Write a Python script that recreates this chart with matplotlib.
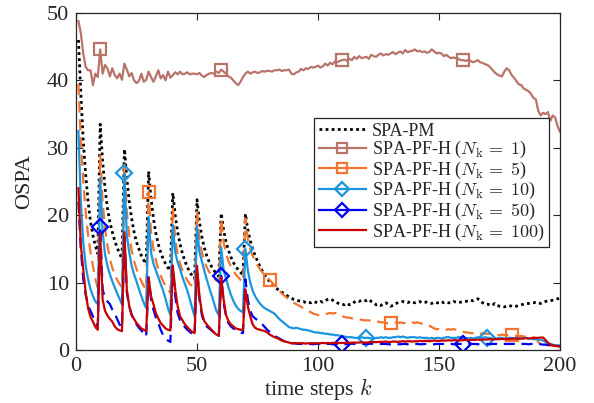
import numpy as np
import matplotlib
matplotlib.use("Agg")
import matplotlib.pyplot as plt
from matplotlib.lines import Line2D

plt.rcParams['font.family'] = ['Liberation Serif', 'DejaVu Serif']
plt.rcParams['mathtext.fontset'] = 'cm'

k = np.arange(1, 201)

spa_pm = [46, 38, 31, 26, 22, 19, 17, 15.5, 14.3,
          33.5, 28, 24, 21, 19, 17.5, 16.2, 15.2, 14.3, 13.6,
          29.8, 25.5, 22, 19.5, 17.5, 16, 15, 14, 13.3, 12.8,
          26.5, 22.5, 19.5, 17.3, 15.7, 14.5, 13.5, 12.8, 12.2, 11.8,
          23.3, 20, 17.5, 15.7, 14.3, 13.2, 12.3, 11.6, 11, 10.6,
          22.3, 19, 16.8, 15.2, 14, 13.1, 12.4, 11.8, 11.3, 10.9,
          20.3, 17.8, 16, 14.8, 13.8, 13, 12.4, 11.9, 11.5, 11.2,
          20.2, 17.8, 16.2, 15, 14, 13.2, 12.4, 11.7, 11.1, 10.6,
          10.2, 9.8, 9.4, 9.1, 8.8, 8.6, 8.3, 8.1, 7.9, 7.7,
          7.5, 7.4, 7.3, 7.2, 7.2, 7.0, 7.1, 7.0, 7.2, 7.1,
          7.0, 7.2, 7.1, 7.3, 7.5, 7.6, 7.4, 7.2, 7.0, 6.8,
          6.8, 6.7, 6.9, 6.7, 6.8, 7.1, 7.3, 7.2, 7.4, 7.4,
          7.3, 7.5, 7.2, 7.0, 6.7, 6.8, 6.6, 6.9, 7.0, 6.8,
          6.5, 6.6, 6.9, 7.0, 7.1, 7.2, 7.1, 7.0, 7.2, 7.1,
          7.0, 7.1, 7.2, 7.0, 7.1, 7.1, 7.0, 6.9, 7.1, 7.0,
          7.0, 7.2, 7.0, 7.1, 7.0, 7.0, 7.2, 7.1, 7.0, 7.1,
          7.2, 7.2, 7.3, 7.4, 7.3, 7.5, 7.6, 7.4, 7.0, 6.8,
          6.8, 6.7, 6.6, 6.9, 6.6, 6.5, 6.5, 6.4, 6.5, 6.6,
          6.5, 6.4, 6.5, 6.6, 6.7, 6.8, 6.9, 6.9, 7.0, 7.0,
          7.1, 7.0, 6.9, 7.1, 7.2, 7.3, 7.3, 7.4, 7.5, 7.6,
          7.7]

pf_n1 = [48.8, 47, 44, 42, 41.5, 41.5, 39.3, 41, 40.5,
         44.6, 41, 42.3, 41.8, 40.6, 41.8, 40.8, 40.3, 41, 40.1,
         42.5, 41.6, 40.6, 41.1, 40.0, 39.6, 39.9, 41.0, 39.8, 40.1,
         41.3, 40.5, 39.8, 40.6, 41.5, 40.3, 40.8, 40.0, 41.3, 40.4,
         40.8, 41.2, 40.9, 41.3, 40.9, 41.0, 41.2, 40.9, 41.0, 41.0,
         40.9, 41.1, 40.7, 40.5, 40.8, 41.0, 41.1, 41.0, 41.3, 41.1,
         41.6, 41.3, 41.0, 40.6, 40.4, 40.0, 39.6, 39.3, 39.8, 40.5,
         41.0, 41.3, 41.0, 41.2, 41.3, 41.1, 41.2, 41.4, 41.3, 41.4,
         41.4, 41.3, 41.5, 41.5, 41.6, 41.4, 41.5, 41.5, 41.6, 41.0,
         40.9, 41.2, 41.3, 41.7, 41.5, 41.8, 41.7, 42.0, 41.9, 42.0,
         42.2, 41.9, 42.1, 42.5, 42.2, 42.6, 42.4, 42.8, 42.7, 42.9,
         43.0, 43.1, 42.9, 43.2, 43.0, 43.5, 43.2, 43.6, 43.3, 43.4,
         43.5, 43.2, 43.8, 43.6, 43.5, 43.8, 44.0, 43.7, 43.9, 43.8,
         44.0, 44.2, 43.9, 44.1, 44.3, 44.0, 44.5, 44.2, 44.3, 44.4,
         44.6, 44.3, 44.4, 44.2, 44.3, 44.1, 44.2, 44.6, 44.3, 44.0,
         44.1, 44.0, 43.6, 43.8, 43.5, 43.3, 43.4, 43.3, 43.2, 43.0,
         43.0, 42.9, 43.0, 42.9, 42.7, 42.8, 43.0, 42.7, 42.6, 42.4,
         42.3, 42.0, 41.6, 41.2, 40.9, 40.7, 40.6, 41.3, 41.8, 41.5,
         40.8, 40.4, 39.9, 39.4, 39.3, 38.8, 38.6, 38.4, 38.0, 37.4,
         37.2, 35.5, 34.8, 35.2, 35.0, 35.3, 34.0, 34.8, 34.5, 33.2,
         32.4]

pf_n5 = [39.5, 31, 25, 20.5, 17, 14.5, 12.5, 10.5, 9.3,
         29, 22, 18, 15.5, 13.5, 12.2, 11.2, 10.4, 9.8, 9.3,
         27.5, 20.5, 17, 14.8, 13.2, 12, 11, 10.2, 9.5, 9.0,
         23.5, 17.5, 15, 13.3, 12, 11, 10.2, 9.5, 8.9, 8.5,
         21.2, 16.5, 14.2, 12.8, 11.8, 11, 10.3, 9.8, 9.5, 9.3,
         20.5, 16.5, 14.5, 13.2, 12.3, 11.6, 11, 10.6, 10.3, 10.1,
         19.5, 16, 14.3, 13.2, 12.4, 11.8, 11.2, 10.8, 10.4, 10.1,
         19.5, 16.5, 15, 14, 13.2, 12.6, 12, 11.5, 11, 10.7,
         10.4, 10.0, 9.6, 9.2, 8.8, 8.4, 8.1, 7.8, 7.5, 7.2,
         7.0, 6.8, 6.6, 6.4, 6.2, 6.0, 5.8, 5.6, 5.4, 5.3,
         5.2, 5.1, 5.2, 5.3, 5.4, 5.5, 5.4, 5.5, 5.4, 5.2,
         5.0, 4.9, 4.8, 4.8, 4.7, 4.6, 4.6, 4.5, 4.5, 4.4,
         4.4, 4.4, 4.3, 4.3, 4.2, 4.2, 4.1, 4.1, 4.0, 4.0,
         4.0, 4.0, 4.1, 4.0, 4.1, 4.0, 4.0, 3.9, 4.0, 4.1,
         4.0, 4.1, 4.0, 3.9, 3.9, 3.8, 3.6, 3.4, 3.2, 3.1,
         3.1, 3.0, 3.1, 3.0, 3.1, 3.0, 3.1, 3.0, 2.9, 2.8,
         2.7, 2.6, 2.6, 2.5, 2.5, 2.6, 2.5, 2.4, 2.5, 2.4,
         2.4, 2.4, 2.3, 2.3, 2.2, 2.2, 2.3, 2.2, 2.2, 2.2,
         2.2, 2.1, 2.1, 2.0, 2.1, 2.0, 2.0, 2.0, 1.9, 1.9,
         1.8, 1.2, 0.9, 0.8, 0.8, 0.7, 0.7, 0.6, 0.6, 0.6,
         0.5]

pf_n10 = [32.5, 22, 16, 12.5, 10.5, 9, 8, 7.2, 6.8,
          25.5, 17.5, 14.2, 12.5, 11.2, 10.2, 9.3, 8.4, 7.6, 6.8,
          26.2, 17, 14.5, 12.5, 11.2, 10.2, 9.0, 8.0, 7.0, 6.2,
          19.8, 14.5, 12.8, 11.8, 10.8, 9.8, 8.8, 7.6, 6.2, 5.2,
          18.5, 14.5, 13, 12, 10.8, 9.8, 8.8, 7.6, 6.2, 5.0,
          18.3, 14.5, 13.2, 11.8, 10.5, 9.3, 8.2, 7.0, 5.8, 5.2,
          15.2, 11.8, 10.6, 9.3, 8.2, 7.3, 6.6, 6.1, 5.8, 5.6,
          15.0, 11.8, 10.0, 8.8, 8.0, 7.4, 6.9, 6.5, 6.2, 6.0,
          5.8, 5.6, 5.4, 5.0, 4.6, 4.3, 4.0, 3.7, 3.4, 3.3,
          3.2, 3.3, 3.2, 3.1, 3.0, 3.0, 2.9, 2.8, 2.7, 2.6,
          2.6, 2.5, 2.5, 2.4, 2.4, 2.3, 2.3, 2.2, 2.2, 2.1,
          2.0, 2.0, 1.9, 1.9, 1.9, 1.8, 1.8, 1.8, 1.9, 1.8,
          1.8, 1.8, 1.7, 1.7, 1.8, 1.8, 1.9, 1.8, 1.9, 1.8,
          1.8, 1.9, 1.9, 2.0, 1.9, 2.0, 1.9, 1.8, 1.9, 1.9,
          1.9, 1.8, 1.9, 1.8, 1.8, 1.8, 1.7, 1.8, 1.7, 1.8,
          1.8, 1.7, 1.8, 1.9, 1.9, 1.8, 1.8, 1.8, 1.9, 1.9,
          1.8, 1.8, 1.7, 1.8, 1.7, 1.8, 1.9, 1.8, 1.8, 1.9,
          1.8, 1.8, 1.7, 1.7, 1.7, 1.8, 1.8, 1.7, 1.7, 1.8,
          1.8, 1.7, 1.8, 1.7, 1.7, 1.8, 1.8, 1.7, 1.7, 1.6,
          1.6, 1.6, 1.5, 1.4, 1.2, 1.0, 0.9, 0.8, 0.7, 0.7,
          0.6]

pf_n50 = [22, 15, 10.5, 8.2, 6.6, 5.8, 5.0, 4.2, 3.5,
          18.3, 9.0, 7.6, 7.2, 6.8, 6.0, 5.4, 4.6, 3.8, 3.3,
          17.0, 8.5, 6.5, 5.2, 4.4, 3.8, 3.3, 2.9, 2.4, 2.0,
          10.8, 7.5, 6.0, 4.8, 4.0, 3.0, 2.2, 1.8, 1.4, 1.2,
          12.5, 8.0, 5.5, 4.4, 3.8, 3.4, 3.0, 2.7, 2.4, 2.2,
          12.3, 7.5, 5.2, 4.0, 3.5, 3.2, 2.9, 2.6, 2.2, 1.9,
          11.0, 7.0, 5.0, 4.0, 3.5, 3.2, 3.0, 2.8, 2.6, 2.5,
          10.5, 7.5, 5.8, 5.0, 4.7, 4.4, 4.1, 3.8, 3.4, 3.0,
          2.7, 2.4, 2.1, 1.9, 1.7, 1.5, 1.3, 1.2, 1.1, 1.0,
          1.0, 0.95, 0.9, 0.9, 0.9, 0.85, 0.9, 0.9, 0.85, 0.9,
          0.9, 0.9, 0.85, 0.9, 0.9, 0.9, 0.85, 0.85, 0.9, 0.9,
          0.9, 0.85, 0.9, 0.9, 0.95, 0.9, 0.9, 0.9, 0.95, 0.9,
          0.9, 0.9, 0.95, 0.9, 0.9, 0.95, 0.9, 0.9, 0.9, 0.85,
          0.85, 0.9, 0.9, 0.85, 0.85, 0.9, 0.9, 0.85, 0.9, 0.9,
          0.9, 0.9, 0.85, 0.85, 0.9, 0.9, 0.9, 0.85, 0.85, 0.9,
          0.9, 0.9, 0.9, 0.85, 0.9, 0.9, 0.85, 0.9, 0.9, 0.9,
          0.9, 0.9, 0.85, 0.9, 0.9, 0.9, 0.85, 0.9, 0.9, 0.9,
          0.9, 0.85, 0.9, 0.9, 0.9, 0.85, 0.9, 0.9, 0.9, 0.9,
          0.9, 0.9, 0.85, 0.9, 0.9, 0.9, 0.9, 0.85, 0.9, 0.9,
          0.9, 0.9, 0.85, 0.8, 0.8, 0.75, 0.7, 0.65, 0.6, 0.6,
          0.6]

pf_n100 = [24, 15.5, 12, 8.5, 6.2, 4.9, 4.2, 3.4, 3.0,
           17.3, 7.5, 5.8, 5.1, 4.6, 4.2, 3.5, 3.1, 2.9, 2.8,
           17.5, 9.0, 6.5, 5.2, 4.6, 4.0, 3.6, 3.2, 3.0, 2.8,
           10.7, 8.0, 6.8, 5.5, 4.7, 4.0, 3.6, 3.2, 3.0, 2.9,
           12.5, 9.0, 6.5, 5.0, 4.4, 3.8, 3.4, 3.0, 2.7, 2.5,
           12.5, 8.0, 5.6, 4.3, 3.8, 3.4, 3.0, 2.6, 2.3, 2.1,
           10.8, 7.5, 5.2, 4.3, 3.8, 3.5, 3.2, 3.1, 3.0, 3.0,
           9.0, 6.5, 5.0, 3.8, 3.3, 3.1, 3.0, 2.9, 2.8, 2.6,
           2.3, 2.1, 1.9, 1.8, 1.6, 1.4, 1.3, 1.2, 1.1, 1.0,
           1.0, 1.0, 1.0, 1.0, 1.0, 0.95, 1.0, 1.0, 1.0, 1.0,
           1.0, 1.0, 1.05, 1.0, 1.05, 1.0, 1.05, 1.05, 1.0, 1.05,
           1.05, 1.05, 1.1, 1.05, 1.1, 1.1, 1.1, 1.1, 1.15, 1.1,
           1.1, 1.15, 1.15, 1.2, 1.15, 1.2, 1.2, 1.2, 1.25, 1.2,
           1.2, 1.25, 1.25, 1.2, 1.25, 1.3, 1.25, 1.3, 1.3, 1.25,
           1.3, 1.3, 1.35, 1.3, 1.35, 1.35, 1.3, 1.35, 1.4, 1.35,
           1.35, 1.4, 1.4, 1.4, 1.45, 1.4, 1.45, 1.45, 1.4, 1.45,
           1.45, 1.5, 1.45, 1.5, 1.5, 1.5, 1.55, 1.5, 1.55, 1.55,
           1.55, 1.6, 1.55, 1.6, 1.6, 1.6, 1.65, 1.6, 1.65, 1.65,
           1.65, 1.7, 1.65, 1.7, 1.7, 1.7, 1.75, 1.7, 1.75, 1.75,
           1.8, 1.8, 1.85, 1.85, 1.5, 1.1, 0.8, 0.7, 0.6, 0.55,
           0.5]

labels = ['SPA-PM',
          r'SPA-PF-H ($N_{\mathrm{k}}\,=\;1$)',
          r'SPA-PF-H ($N_{\mathrm{k}}\,=\;5$)',
          r'SPA-PF-H ($N_{\mathrm{k}}\,=\;10$)',
          r'SPA-PF-H ($N_{\mathrm{k}}\,=\;50$)',
          r'SPA-PF-H ($N_{\mathrm{k}}\,=\;100$)']
colors = ['black', '#B8736A', '#F2752F', '#1B95DD', '#0000F0', '#C80000']
xticks = [0, 50, 100, 150, 200]
yticks = [0, 10, 20, 30, 40, 50]

fig = plt.figure(figsize=(5.94, 4.03), dpi=100)
ax = fig.add_axes([76/594, 53/403, 484/594, 337/403])

lw = 1.6
dash = (0, (5, 3))
ax.plot(k, spa_pm, color=colors[0], linestyle=(0, (1, 1.2)), lw=2.0)
ax.plot(k, pf_n1, color=colors[1], lw=lw, marker='s', ms=9, mfc='none', mew=1.6,
        markevery=slice(9, None, 50))
ax.plot(k, pf_n5, color=colors[2], lw=lw, linestyle=dash, marker='s', ms=9,
        mfc='none', mew=1.6, markevery=slice(29, None, 50))
ax.plot(k, pf_n10, color=colors[3], lw=lw, marker='D', ms=8, mfc='none', mew=1.6,
        markevery=slice(19, None, 50))
ax.plot(k, pf_n50, color=colors[4], lw=lw, linestyle=dash, marker='D', ms=8,
        mfc='none', mew=1.6, markevery=slice(9, None, 50))
ax.plot(k, pf_n100, color=colors[5], lw=lw)

ax.set_xlim(0, 200)
ax.set_ylim(0, 50)
ax.set_xticks(xticks)
ax.set_yticks(yticks)
ax.tick_params(direction='in', top=True, right=True, length=5, labelsize=16,
               colors='#262626', pad=5)
for s in ax.spines.values():
    s.set_color('#262626')
    s.set_linewidth(0.9)
ax.set_xlabel('time steps $k$', fontsize=16, color='#262626', labelpad=0)
ax.set_ylabel('OSPA', fontsize=16, color='#262626', labelpad=9)

markers = [None, 's', 's', 'D', 'D', None]
handles = []
for c, m, lab in zip(colors, markers, labels):
    if c == 'black':
        handles.append(Line2D([], [], color=c, lw=2.0, linestyle=(0, (1, 1.2)), label=lab))
    else:
        handles.append(Line2D([], [], color=c, lw=lw, marker=m, ms=7.5, mfc='none',
                              mew=1.6, label=lab))

leg = ax.legend(handles=handles, loc='upper right', bbox_to_anchor=(0.977, 0.688),
                fontsize=13, frameon=True, fancybox=False, framealpha=1,
                edgecolor='#262626', handlelength=2.65, handletextpad=0.3,
                labelspacing=-0.03, borderpad=0.25, borderaxespad=0)
leg.get_frame().set_linewidth(0.9)
for t in leg.get_texts():
    t.set_color('#262626')

fig.savefig('out.png', dpi=100)
